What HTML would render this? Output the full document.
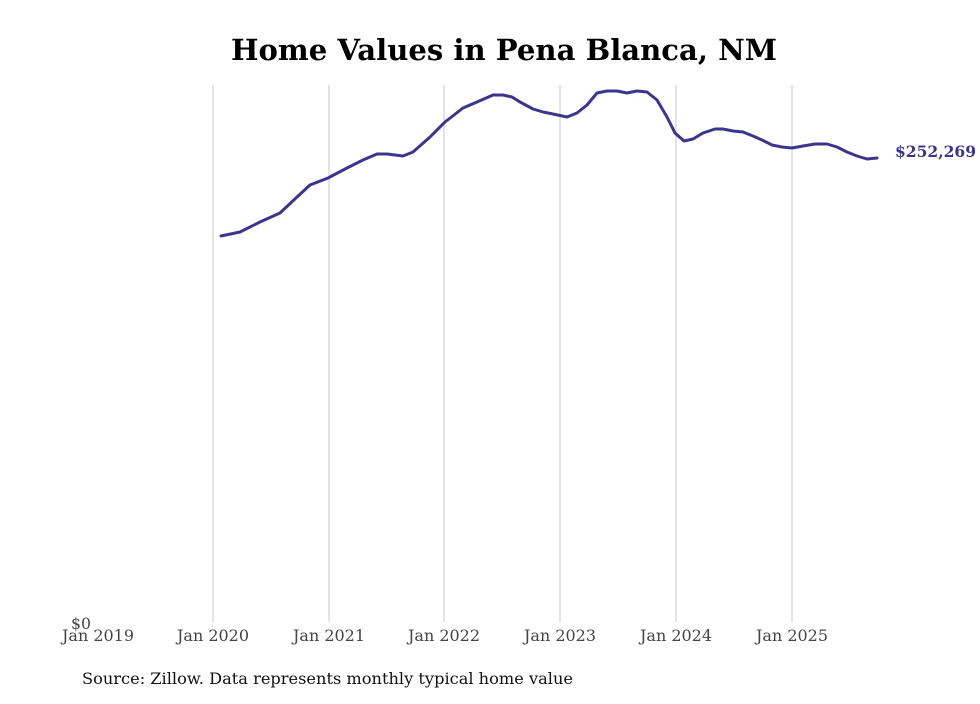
<!DOCTYPE html>
<html><head><meta charset="utf-8"><style>
html,body{margin:0;padding:0;background:#fff;}
body{width:980px;height:699px;overflow:hidden;}
</style></head><body>
<svg width="980" height="699" xmlns="http://www.w3.org/2000/svg" font-family="'DejaVu Serif','Liberation Serif',serif">
<text x="231" y="60" textLength="546" lengthAdjust="spacingAndGlyphs" font-size="29" font-weight="bold" fill="#000">Home Values in Pena Blanca, NM</text>
<g stroke="#c8c8c8" stroke-width="1">
<line x1="213" y1="85" x2="213" y2="622"/>
<line x1="329" y1="85" x2="329" y2="622"/>
<line x1="444" y1="85" x2="444" y2="622"/>
<line x1="560" y1="85" x2="560" y2="622"/>
<line x1="676" y1="85" x2="676" y2="622"/>
<line x1="792" y1="85" x2="792" y2="622"/>
</g>
<g font-size="16" fill="#444">
<text x="71" y="629" textLength="20" lengthAdjust="spacingAndGlyphs">$0</text>
<text x="62" y="641" textLength="72" lengthAdjust="spacingAndGlyphs">Jan 2019</text>
<text x="177" y="641" textLength="72" lengthAdjust="spacingAndGlyphs">Jan 2020</text>
<text x="293" y="641" textLength="72" lengthAdjust="spacingAndGlyphs">Jan 2021</text>
<text x="408" y="641" textLength="72" lengthAdjust="spacingAndGlyphs">Jan 2022</text>
<text x="524" y="641" textLength="72" lengthAdjust="spacingAndGlyphs">Jan 2023</text>
<text x="640" y="641" textLength="72" lengthAdjust="spacingAndGlyphs">Jan 2024</text>
<text x="756" y="641" textLength="72" lengthAdjust="spacingAndGlyphs">Jan 2025</text>
</g>
<polyline fill="none" stroke="#3b3590" stroke-width="3" stroke-linejoin="round" stroke-linecap="round" points="221,236 240,232 260,222 280,213 297,197 310,185 328,178 347,168 363,160 377,154 387,154 403,156 413,152 430,137 445,122 463,108 477,102 493,95 503,95 512,97 520,102 533,109 543,112 553,114 567,117 577,113 587,105 597,93 607,91 617,91 627,93 637,91 647,92 657,100 667,117 675,133 684,141 693,139 703,133 715,129 723,129 733,131 743,132 753,136 762,140 772,145 782,147 792,148 803,146 815,144 827,144 837,147 847,152 857,156 867,159 877,158"/>
<text x="895" y="157" textLength="81" lengthAdjust="spacingAndGlyphs" font-size="16" font-weight="bold" fill="#3b3590">$252,269</text>
<text x="82" y="684" textLength="491" lengthAdjust="spacingAndGlyphs" font-size="16" fill="#111">Source: Zillow. Data represents monthly typical home value</text>
</svg>
</body></html>
